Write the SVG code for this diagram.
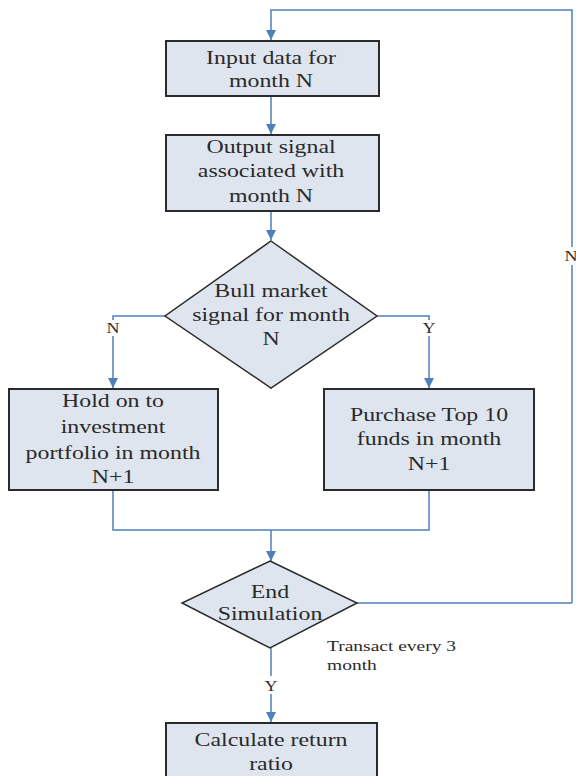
<svg xmlns="http://www.w3.org/2000/svg" width="576" height="776" viewBox="0 0 576 776">
  <style>
    .box { fill: #dfe5ef; stroke: #2b2b2b; stroke-width: 2; }
    .dia { fill: #dfe5ef; stroke: #2b2b2b; stroke-width: 1.5; }
    text { font-family: "Liberation Serif", "Times New Roman", serif; fill: #2a2a2a; }
    .t { font-size: 18.5px; text-anchor: middle; }
    .s { font-size: 15px; text-anchor: middle; }
    .n { font-size: 15px; }
    .c { fill: none; stroke: #4f7fbd; stroke-width: 1.5; }
  </style>
  <defs>
    <marker id="arr" viewBox="0 0 10 10" refX="10" refY="5" markerWidth="10" markerHeight="10" markerUnits="userSpaceOnUse" orient="auto">
      <path d="M0,0 L10,5 L0,10 z" fill="#4f7fbd"/>
    </marker>
  </defs>
  <rect width="576" height="776" fill="#ffffff"/>

  <g id="connectors">
    <path class="c" d="M572,603 L572,265"/>
    <path class="c" d="M572,247 L572,10 L271,10 L271,40" marker-end="url(#arr)"/>
    <path class="c" d="M271,96 L271,134" marker-end="url(#arr)"/>
    <path class="c" d="M271,211 L271,240" marker-end="url(#arr)"/>
    <path class="c" d="M165,316 L113,316 L113,320"/>
    <path class="c" d="M113,336 L113,388" marker-end="url(#arr)"/>
    <path class="c" d="M377,316 L429,316 L429,320"/>
    <path class="c" d="M429,336 L429,388" marker-end="url(#arr)"/>
    <path class="c" d="M113,490 L113,530 L429,530 L429,490"/>
    <path class="c" d="M271,530 L271,561" marker-end="url(#arr)"/>
    <path class="c" d="M357,603 L572,603"/>
    <path class="c" d="M271,648 L271,676"/>
    <path class="c" d="M271,694 L271,722" marker-end="url(#arr)"/>
  </g>

  <g id="input-data">
    <rect class="box" x="166" y="41" width="213" height="55"/>
    <text class="t" transform="translate(271,64) scale(1.29,1)">Input data for</text>
    <text class="t" transform="translate(271,87) scale(1.29,1)">month N</text>
  </g>

  <g id="output-signal">
    <rect class="box" x="166" y="135" width="213" height="76"/>
    <text class="t" transform="translate(271,153) scale(1.29,1)">Output signal</text>
    <text class="t" transform="translate(271,177) scale(1.29,1)">associated with</text>
    <text class="t" transform="translate(271,202) scale(1.29,1)">month N</text>
  </g>

  <g id="bull-market">
    <polygon class="dia" points="271,241 377,316 271,388 165,316"/>
    <text class="t" transform="translate(271,297) scale(1.29,1)">Bull market</text>
    <text class="t" transform="translate(271,321) scale(1.29,1)">signal for month</text>
    <text class="t" transform="translate(271,345) scale(1.29,1)">N</text>
  </g>

  <g id="hold-portfolio">
    <rect class="box" x="9" y="389" width="209" height="101"/>
    <text class="t" transform="translate(113,407) scale(1.29,1)">Hold on to</text>
    <text class="t" transform="translate(113,433) scale(1.29,1)">investment</text>
    <text class="t" transform="translate(113,459) scale(1.29,1)">portfolio in month</text>
    <text class="t" transform="translate(113,483) scale(1.29,1)">N+1</text>
  </g>

  <g id="purchase-top10">
    <rect class="box" x="324" y="389" width="210" height="101"/>
    <text class="t" transform="translate(429,421) scale(1.29,1)">Purchase Top 10</text>
    <text class="t" transform="translate(429,445) scale(1.29,1)">funds in month</text>
    <text class="t" transform="translate(429,470) scale(1.29,1)">N+1</text>
  </g>

  <g id="end-simulation">
    <polygon class="dia" points="270,561 357,603 270,648 182,603"/>
    <text class="t" transform="translate(270,598) scale(1.29,1)">End</text>
    <text class="t" transform="translate(270,620) scale(1.29,1)">Simulation</text>
  </g>

  <g id="calc-return">
    <rect class="box" x="166" y="723" width="211" height="70"/>
    <text class="t" transform="translate(271,746) scale(1.29,1)">Calculate return</text>
    <text class="t" transform="translate(271,770) scale(1.29,1)">ratio</text>
  </g>

  <g id="labels">
    <text class="s" transform="translate(113,333) scale(1.2,1)">N</text>
    <text class="s" transform="translate(429,333) scale(1.2,1)">Y</text>
    <text class="s" transform="translate(571,261) scale(1.2,1)">N</text>
    <text class="s" transform="translate(271,691) scale(1.2,1)">Y</text>
    <text class="n" transform="translate(327,651) scale(1.3,1)">Transact every 3</text>
    <text class="n" transform="translate(327,670) scale(1.3,1)">month</text>
  </g>
</svg>
